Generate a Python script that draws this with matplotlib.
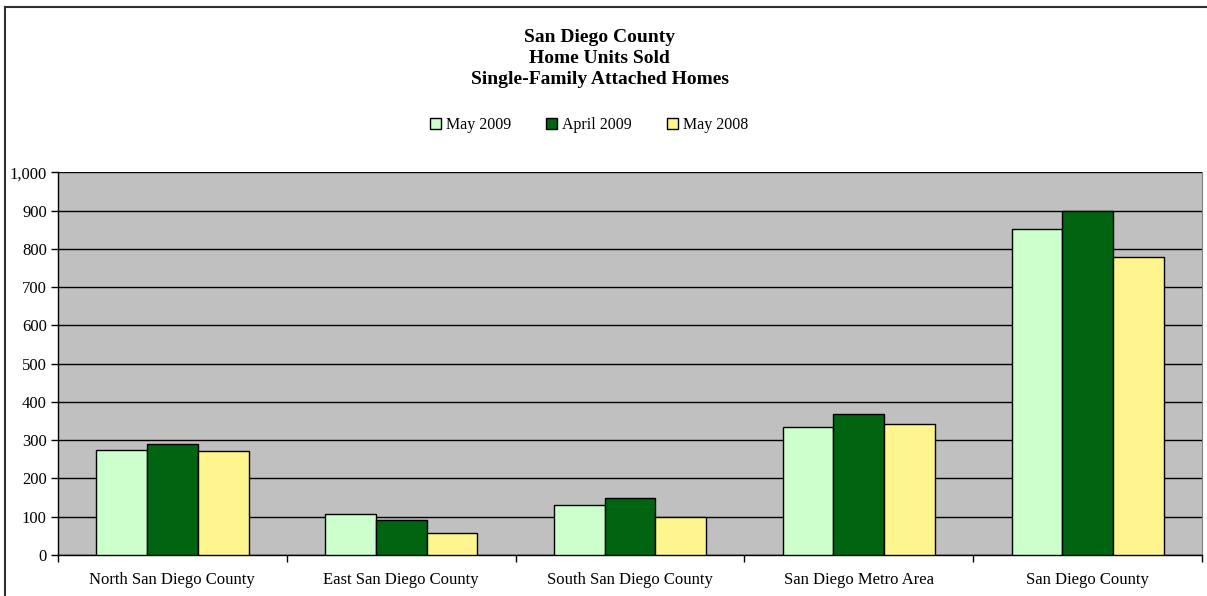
import numpy as np
import matplotlib.pyplot as plt
from matplotlib.lines import Line2D

categories = ["North San Diego County", "East San Diego County", "South San Diego County",
              "San Diego Metro Area", "San Diego County"]
series_names = ["May 2009", "April 2009", "May 2008"]
may_2009 = [275, 108, 130, 335, 851]
april_2009 = [291, 91, 148, 369, 898]
may_2008 = [271, 57, 99, 343, 778]

colors = ["#CCFFCC", "#006411", "#FFF58F"]

plt.rcParams["font.family"] = ["Liberation Serif", "DejaVu Serif"]

fig = plt.figure(figsize=(12.07, 5.96), dpi=100)
ax = fig.add_axes([0.048, 0.069, 0.948, 0.642])
ax.set_facecolor("#C0C0C0")

x = np.arange(len(categories))
w = 0.222
for i, (name, vals) in enumerate(zip(series_names, [may_2009, april_2009, may_2008])):
    ax.bar(x + (i - 1) * w, vals, width=w, color=colors[i], edgecolor="black",
           linewidth=1, label=name, zorder=3)

ax.set_xlim(-0.5, len(categories) - 0.5)
ax.set_ylim(0, 1000)
ax.set_yticks(range(0, 1001, 100))
ax.set_yticklabels([f"{v:,}" for v in range(0, 1001, 100)], fontsize=12)
ax.yaxis.grid(True, color="black", linewidth=1, zorder=1)
ax.set_axisbelow(True)

ax.set_xticks(x)
ax.set_xticklabels(categories, fontsize=12)
ax.tick_params(axis="x", length=0, pad=12)
ax.set_xticks(np.arange(-0.5, len(categories), 1), minor=True)
ax.tick_params(axis="x", which="minor", length=5, width=1, direction="out")
ax.tick_params(axis="y", length=5, width=1, direction="out", pad=3)

ax.spines["top"].set_visible(False)
ax.spines["right"].set_color("#808080")
ax.spines["left"].set_linewidth(1)
ax.spines["bottom"].set_linewidth(1)

fig.text(0.497, 0.937, "San Diego County", ha="center", va="center",
         fontsize=14, fontweight="bold")
fig.text(0.497, 0.902, "Home Units Sold", ha="center", va="center",
         fontsize=14, fontweight="bold")
fig.text(0.497, 0.867, "Single-Family Attached Homes", ha="center", va="center",
         fontsize=14, fontweight="bold")

leg = fig.legend(loc="center", bbox_to_anchor=(0.488, 0.79), ncol=3, frameon=False,
                 fontsize=11.5, handlelength=0.7, handleheight=0.7, handletextpad=0.3,
                 columnspacing=2.2)

# outer chart border: only left and top edges show in the picture
fig.add_artist(Line2D([0.004, 0.004], [0.0, 0.989], transform=fig.transFigure,
                      color="#303030", linewidth=1.5))
fig.add_artist(Line2D([0.004, 1.0], [0.989, 0.989], transform=fig.transFigure,
                      color="#303030", linewidth=1.5))

fig.savefig("out.png", dpi=100)
